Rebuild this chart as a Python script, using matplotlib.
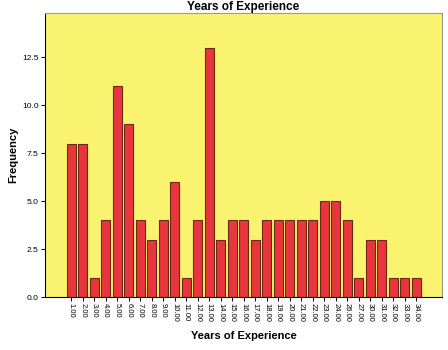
import matplotlib
matplotlib.use("Agg")
import matplotlib.pyplot as plt

categories = ["1.00","2.00","3.00","4.00","5.00","6.00","7.00","8.00","9.00","10.00",
              "11.00","12.00","13.00","14.00","15.00","16.00","17.00","18.00","19.00","20.00",
              "21.00","22.00","23.00","24.00","26.00","27.00","30.00","31.00","32.00","33.00","34.00"]
frequency = [8,8,1,4,11,9,4,3,4,6,1,4,13,3,4,4,3,4,4,4,4,4,5,5,4,1,3,3,1,1,1]
yticks = [0.0, 2.5, 5.0, 7.5, 10.0, 12.5]

plt.rcParams['font.family'] = ['Liberation Sans', 'DejaVu Sans']

fig = plt.figure(figsize=(4.48, 3.5), dpi=100)
ax = fig.add_axes([0.1, 0.151, 0.887, 0.812])
ax.set_facecolor('#FAF370')
x = list(range(len(categories)))
ax.bar(x, frequency, width=0.75, color='#E8353E', edgecolor='#6B2A10', linewidth=0.8)
ax.set_xlim(-2.3, len(categories) - 1 + 2.26)
ax.set_ylim(0, 14.8)
ax.set_yticks(yticks)
ax.set_yticklabels([f"{v:.1f}" for v in yticks], fontsize=6)
ax.set_xticks(x)
ax.set_xticklabels(categories, rotation=-90, fontsize=5.5)
ax.tick_params(axis='both', direction='out', length=3, width=0.7, pad=1.5)
for s in ['top', 'right']:
    ax.spines[s].set_color('#999999')
for s in ['left', 'bottom']:
    ax.spines[s].set_color('black')
ax.set_xlabel("Years of Experience", fontsize=8, fontweight='bold', labelpad=6)
ax.set_ylabel("Frequency", fontsize=8, fontweight='bold', labelpad=3)
ax.set_title("Years of Experience", fontsize=8.5, fontweight='bold', pad=2)
fig.savefig("out.png", dpi=100, facecolor='white')
